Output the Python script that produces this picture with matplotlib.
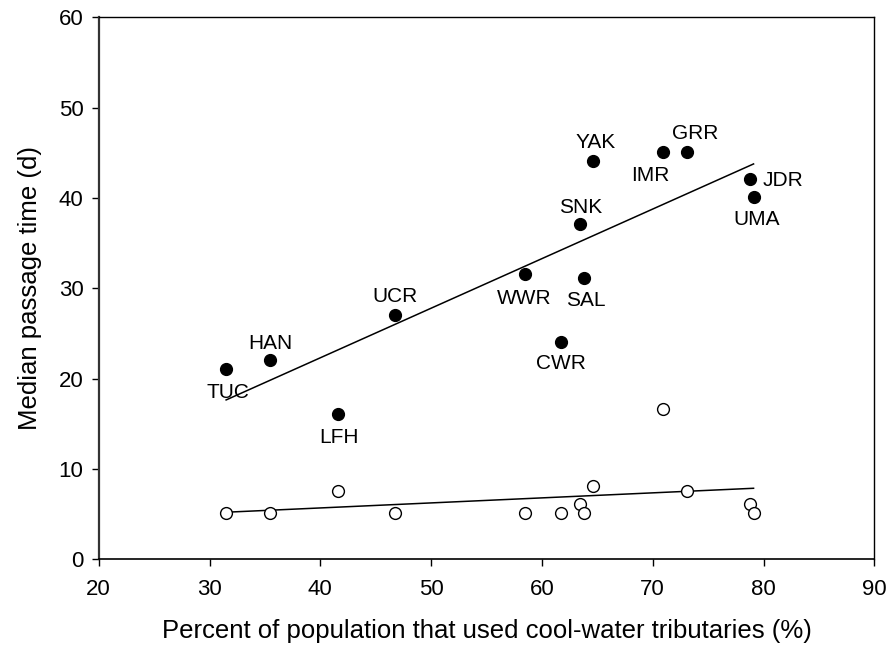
import numpy as np
import matplotlib.pyplot as plt

plt.rcParams['font.family'] = ['Liberation Sans', 'DejaVu Sans']

# stock codes and the share of each population that used cool-water tributaries
stocks = ["TUC", "HAN", "LFH", "UCR", "WWR", "CWR", "SNK",
          "SAL", "YAK", "IMR", "GRR", "JDR", "UMA"]
pct_cool = [31.5, 35.5, 41.6, 46.7, 58.5, 61.7, 63.4,
            63.8, 64.6, 70.9, 73.1, 78.8, 79.1]

# median passage time (d): filled = one group, open = the other
passage_filled = [21.1, 22.1, 16.1, 27.1, 31.6, 24.1, 37.1,
                  31.1, 44.1, 45.1, 45.1, 42.1, 40.1]
passage_open = [5.1, 5.1, 7.6, 5.1, 5.1, 5.1, 6.1,
                5.1, 8.1, 16.6, 7.6, 6.1, 5.1]

# label placement (offset points from the marker, alignment)
label_pos = {
    "TUC": (1, -17, "center"),
    "HAN": (0, 12, "center"),
    "UCR": (0, 13, "center"),
    "LFH": (1, -17, "center"),
    "YAK": (2, 13, "center"),
    "GRR": (6, 13, "center"),
    "IMR": (-9, -17, "center"),
    "JDR": (9, -1, "left"),
    "UMA": (2, -16, "center"),
    "SNK": (1, 12, "center"),
    "WWR": (-1, -18, "center"),
    "SAL": (1, -16, "center"),
    "CWR": (0, -16, "center"),
}

x = np.array(pct_cool)
y1 = np.array(passage_filled)
y2 = np.array(passage_open)

fig = plt.figure(figsize=(8.9, 6.49), dpi=100)
ax = fig.add_axes([0.1109, 0.1382, 0.8715, 0.8351])

# least-squares lines over the observed range
xs = np.linspace(x.min(), x.max(), 50)
for yy in (y1, y2):
    b, a = np.polyfit(x, yy, 1)
    ax.plot(xs, a + b * xs, color="black", lw=1.1, zorder=2)

ax.plot(x, y1, "o", ms=8.5, mfc="black", mec="black", zorder=3)
ax.plot(x, y2, "o", ms=8.5, mfc="white", mec="black", mew=1.0, zorder=3)

for name, xi, yi in zip(stocks, x, y1):
    dx, dy, ha = label_pos[name]
    ax.annotate(name, (xi, yi), xytext=(dx, dy), textcoords="offset points",
                ha=ha, va="center", fontsize=15)

ax.set_xlim(20, 90)
ax.set_ylim(0, 60)
ax.set_xticks(np.arange(20, 91, 10))
ax.set_yticks(np.arange(0, 61, 10))
ax.tick_params(axis="both", direction="out", length=5, width=1,
               labelsize=16, top=False, right=False)
ax.tick_params(axis="x", pad=9)
ax.tick_params(axis="y", pad=6)
for s in ax.spines.values():
    s.set_linewidth(1.0)
ax.spines["left"].set_linewidth(1.6)
ax.spines["left"].set_color("#333333")
ax.spines["bottom"].set_linewidth(1.2)

ax.set_xlabel("Percent of population that used cool-water tributaries (%)",
              fontsize=18.5, labelpad=14)
ax.set_ylabel("Median passage time (d)", fontsize=18.5, labelpad=12)

fig.savefig("out.png", dpi=100)
